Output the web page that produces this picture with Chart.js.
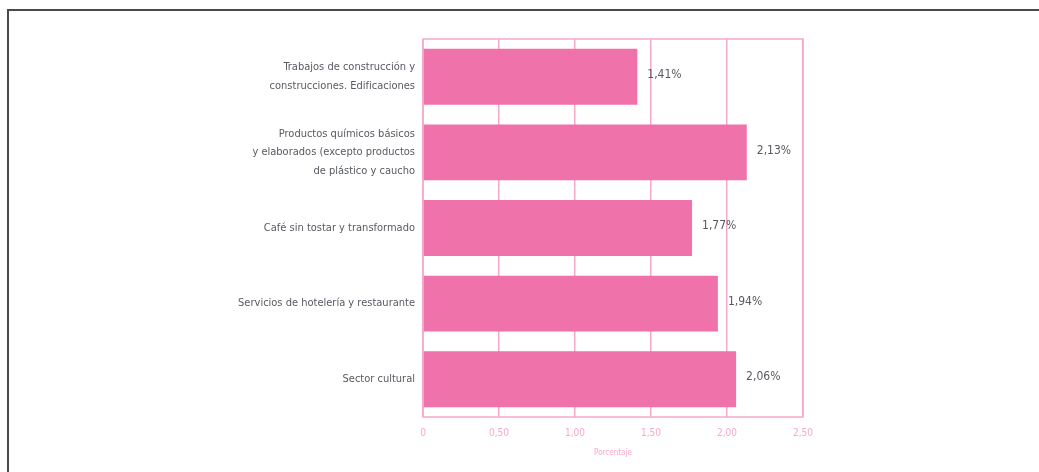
<!DOCTYPE html>
<html lang="es">
<head>
  <meta charset="UTF-8" />
  <title>Porcentaje por sector</title>
  <script src="https://cdn.jsdelivr.net/npm/chart.js"></script>
  <style>
    html, body { margin: 0; padding: 0; background: #fff; }
    #wrap { position: relative; width: 1039px; height: 472px; overflow: hidden; }
    #frame {
      position: absolute; left: 7px; top: 9px; width: 1100px; height: 500px;
      border-top: 2px solid #4a4a4a; border-left: 2px solid #4a4a4a;
    }
    canvas { position: absolute; left: 0; top: 0; }
  </style>
</head>
<body>
  <div id="wrap">
    <div id="frame"></div>
    <canvas id="chart" width="1039" height="472"></canvas>
  </div>

  <script>
    const categories = [
      ["Trabajos de construcción y", "construcciones. Edificaciones"],
      ["Productos químicos básicos", "y elaborados (excepto productos", "de plástico y caucho"],
      "Café sin tostar y transformado",
      "Servicios de hotelería y restaurante",
      "Sector cultural"
    ];
    const values = [1.41, 2.13, 1.77, 1.94, 2.06];
    const tickLabels = ["0", "0,50", "1,00", "1,50", "2,00", "2,50"];

    const FONT = "'Liberation Sans Narrow', 'DejaVu Sans Condensed', 'Roboto', sans-serif";
    const PINK = "#f072aa";
    const LINE_PINK = "#f6a9cb";
    const GREY = "#565a60";

    // percentage label at the end of each bar
    const valueLabels = {
      id: "valueLabels",
      afterDatasetsDraw(chart) {
        const ctx = chart.ctx;
        const meta = chart.getDatasetMeta(0);
        ctx.save();
        ctx.font = "12px " + FONT;
        ctx.fillStyle = GREY;
        ctx.textAlign = "left";
        ctx.textBaseline = "middle";
        meta.data.forEach((bar, i) => {
          const txt = values[i].toFixed(2).replace(".", ",") + "%";
          ctx.fillText(txt, bar.x + 10, bar.y - 2);
        });
        ctx.restore();
      }
    };

    // box around the plot area
    const plotBox = {
      id: "plotBox",
      beforeDatasetsDraw(chart) {
        const a = chart.chartArea;
        const ctx = chart.ctx;
        ctx.save();
        ctx.strokeStyle = LINE_PINK;
        ctx.lineWidth = 1.5;
        ctx.strokeRect(a.left, a.top, a.right - a.left, a.bottom - a.top);
        ctx.restore();
      }
    };

    new Chart(document.getElementById("chart"), {
      type: "bar",
      data: {
        labels: categories,
        datasets: [{
          data: values,
          backgroundColor: PINK,
          borderWidth: 0,
          barPercentage: 0.74,
          categoryPercentage: 1
        }]
      },
      options: {
        indexAxis: "y",
        responsive: false,
        animation: false,
        layout: { padding: { top: 39, right: 236, left: 0, bottom: 0 } },
        plugins: {
          legend: { display: false },
          tooltip: { enabled: false }
        },
        scales: {
          x: {
            min: 0,
            max: 2.5,
            afterFit: s => { s.height = 55; },
            afterBuildTicks: s => {
              s.ticks = tickLabels.map((_, i) => ({ value: i * 0.5 }));
            },
            ticks: {
              padding: 10,
              color: LINE_PINK,
              font: { family: FONT, size: 10 },
              callback: (v, i) => tickLabels[i]
            },
            grid: { color: LINE_PINK, lineWidth: 1.5, drawTicks: false },
            border: { display: false },
            title: {
              display: true,
              text: "Porcentaje",
              color: LINE_PINK,
              font: { family: FONT, size: 8 },
              padding: { top: 0, bottom: 14 }
            }
          },
          y: {
            afterFit: s => { s.width = 423; },
            ticks: {
              padding: 0,
              color: GREY,
              font: { family: FONT, size: 11, lineHeight: 1.7 }
            },
            grid: { display: false },
            border: { display: false }
          }
        }
      },
      plugins: [plotBox, valueLabels]
    });
  </script>
</body>
</html>
